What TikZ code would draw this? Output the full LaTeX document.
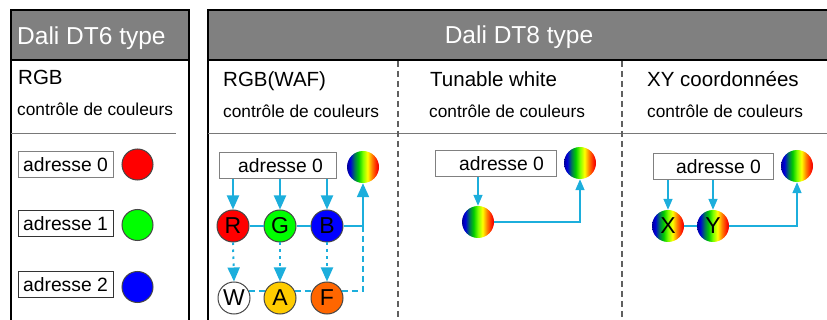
\documentclass[tikz,border=0pt]{standalone}
\usepackage{fontspec}
\setmainfont{Liberation Sans}
\usetikzlibrary{arrows.meta,calc}
\definecolor{hdr}{RGB}{128,128,128}
\definecolor{cy}{RGB}{28,174,220}
\definecolor{cedge}{RGB}{70,70,70}
\definecolor{amber}{RGB}{255,204,0}
\definecolor{orng}{RGB}{255,102,0}
\definecolor{sep}{RGB}{120,120,120}
\pgfdeclarehorizontalshading{rainbow}{100bp}{
  color(0bp)=(blue!60!black);
  color(25bp)=(blue!60!black);
  color(30bp)=(blue!85!black);
  color(37bp)=(green!60!blue!80!black);
  color(43bp)=(green!80!black);
  color(50bp)=(green!50!yellow);
  color(57bp)=(yellow);
  color(64bp)=(orange);
  color(71bp)=(red!80!orange);
  color(75bp)=(red!90!black);
  color(100bp)=(red!90!black)}
\tikzset{
  hdrtext/.style={text=white,font=\fontsize{24.5}{28}\selectfont,inner sep=0pt},
  ttl/.style={anchor=base west,font=\fontsize{20.5}{24}\selectfont,inner sep=0pt},
  subttl/.style={anchor=base west,font=\fontsize{17.3}{20}\selectfont,inner sep=0pt},
  addr/.style={draw=gray,line width=1pt,minimum height=26pt,inner sep=0pt,font=\fontsize{19.3}{22}\selectfont},
  dot/.style={circle,draw=cedge,line width=1pt,minimum size=32pt,inner sep=0pt,font=\fontsize{23}{26}\selectfont},
  rb/.style={circle,shading=rainbow,minimum size=32pt,inner sep=0pt,font=\fontsize{23}{26}\selectfont},
  bigarr/.style={cy,line width=2pt,-{Triangle[width=12pt,length=14pt]}},
  smallarr/.style={cy,line width=1.5pt,-{Triangle[width=9pt,length=11pt]}},
  conn/.style={cy,line width=2pt},
  dotarr/.style={cy,line width=2pt,dash pattern=on 2.5pt off 4.5pt,-{Triangle[width=12pt,length=14pt]}},
  dashconn/.style={cy,line width=2pt,dash pattern=on 6pt off 4pt},
  frame/.style={draw=black,line width=2.5pt},
  vsep/.style={draw=sep!80!black,line width=1.5pt,dash pattern=on 6pt off 4pt}
}
\begin{document}
\begin{tikzpicture}[x=1pt,y=-1pt]
\useasboundingbox (0,0) rectangle (827,320);
\clip (0,0) rectangle (827,320);
% DT6 frame
\fill[hdr] (11,10) rectangle (189,60);
\draw[frame] (11,340) -- (11,10) -- (189,10) -- (189,340);
\draw[black,line width=2pt] (11,60) -- (189,60);
\node[hdrtext,anchor=base west] (h6) at (17,45) {Dali DT6 type};
\node[ttl] (t6) at (18,85) {RGB};
\node[subttl] (s6) at (17,116) {contrôle de couleurs};
\draw[sep,line width=1pt] (11,134) -- (176,134);
\node[addr,minimum width=95pt] (a60) at (65.5,165) {adresse 0};
\node[addr,draw=black!80,minimum width=95pt] (a61) at (65.5,224) {adresse 1};
\node[addr,draw=black!80,minimum width=95pt] (a62) at (65.5,285) {adresse 2};
\node[dot,fill=red,minimum size=31pt] (c60) at (137.5,164.5) {};
\node[dot,fill=green,minimum size=31pt] (c61) at (137.5,225) {};
\node[dot,fill=blue,minimum size=31pt] (c62) at (137.5,287) {};
% DT8 frame
\fill[hdr] (208,10) rectangle (840,60);
\draw[frame] (208,340) -- (208,10) -- (840,10);
\draw[black,line width=2pt] (208,60) -- (840,60);
\node[hdrtext,anchor=base] (h8) at (519,44) {Dali DT8 type};
\draw[sep,line width=1pt] (208,133.5) -- (840,133.5);
\draw[vsep] (398,61) -- (398,322);
\draw[vsep] (622,61) -- (622,322);
\node[ttl] (t81) at (223,87) {RGB(WAF)};
\node[subttl] (s81) at (223,118) {contrôle de couleurs};
\node[ttl] (t82) at (430,87) {Tunable white};
\node[subttl] (s82) at (429,118) {contrôle de couleurs};
\node[ttl] (t83) at (647,87) {XY coordonnées};
\node[subttl] (s83) at (647,118) {contrôle de couleurs};
% RGB(WAF)
\node[addr,minimum width=117pt] (ab) at (277.5,166) {\hspace{6pt}adresse 0};
\node[rb] (rb1) at (363,167) {};
\node[dot,fill=red] (R) at (233,226) {R};
\node[dot,fill=green] (G) at (280,226) {G};
\node[dot,fill=blue] (B) at (327,226) {B};
\node[dot,fill=white] (W) at (234,298) {W};
\node[dot,fill=amber] (A) at (280,298) {A};
\node[dot,fill=orng] (F) at (327,298) {F};
\draw[bigarr] (ab.south -| R) -- (R.north);
\draw[bigarr] (ab.south -| G) -- (G.north);
\draw[bigarr] (ab.south -| B) -- (B.north);
\draw[conn] (R.east) -- (G.west);
\draw[conn] (G.east) -- (B.west);
\draw[bigarr] (B.east) -| (rb1.south);
\draw[dotarr] (R.south) -- (W.north);
\draw[dotarr] (G.south) -- (A.north);
\draw[dotarr] (B.south) -- (F.north);
\draw[dashconn] (W.26) -- (A.154);
\draw[dashconn] (A.26) -- (F.154);
\draw[dashconn] (F.26) -| (rb1.south |- B.east);
% Tunable white
\node[addr,minimum width=121pt] (at) at (495.5,164) {\hspace{12pt}adresse 0};
\node[rb] (rb2) at (580,163) {};
\node[rb] (tw) at (478,222) {};
\draw[smallarr] (at.south -| tw) -- (tw.north);
\draw[smallarr] (tw.east) -| (rb2.south);
% XY
\node[addr,minimum width=120pt] (axy) at (713,167) {\hspace{11pt}adresse 0};
\node[rb] (rb3) at (797,166) {};
\node[rb] (X) at (668,226) {X};
\node[rb] (Y) at (713,226) {Y};
\draw[smallarr] (axy.south -| X) -- (X.north);
\draw[smallarr] (axy.south -| Y) -- (Y.north);
\draw[cy,line width=1.5pt] (X.east) -- (Y.west);
\draw[smallarr] (Y.east) -| (rb3.south);
\end{tikzpicture}
\end{document}
